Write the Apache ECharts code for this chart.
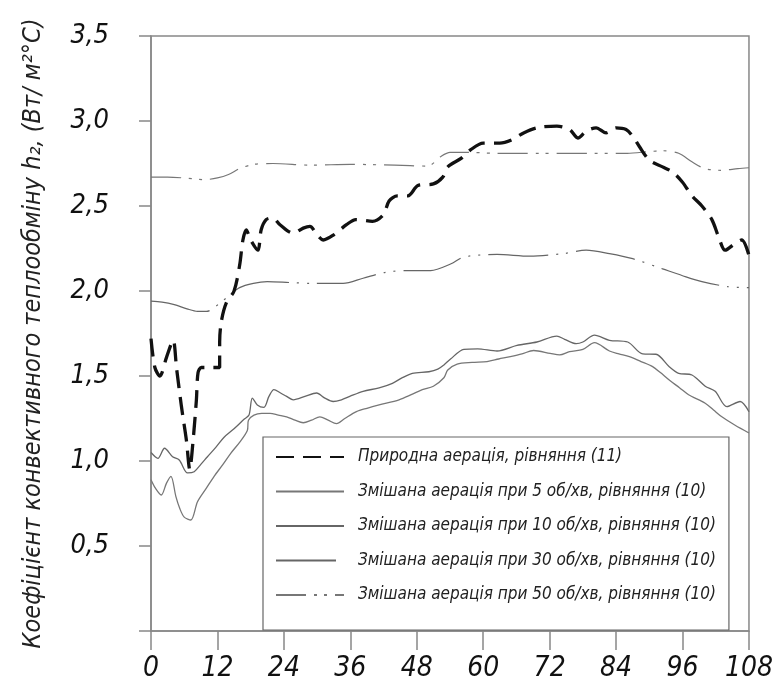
<!DOCTYPE html>
<html>
<head>
<meta charset="utf-8">
<script src="https://cdn.jsdelivr.net/npm/echarts@6/dist/echarts.min.js"></script>
<style>
html,body{margin:0;padding:0;background:#fff;}
#c{width:776px;height:684px;}
</style>
</head>
<body>
<div id="c"></div>
<script>
const FONT = "'Liberation Sans Narrow', 'DejaVu Sans Condensed', sans-serif";

const seriesNames = [
  'Природна аерація, рівняння (11)',
  'Змішана аерація при 5 об/хв, рівняння (10)',
  'Змішана аерація при 10 об/хв, рівняння (10)',
  'Змішана аерація при 30 об/хв, рівняння (10)',
  'Змішана аерація при 50 об/хв, рівняння (10)'
];

const xTicks = [0, 12, 24, 36, 48, 60, 72, 84, 96, 108];
const yTicks = [0.5, 1.0, 1.5, 2.0, 2.5, 3.0, 3.5];

const natural = [
  [0,1.72],[0.7,1.55],[1.6,1.5],[2.8,1.61],[4,1.71],[4.6,1.55],[5.5,1.32],[6.4,1.12],[7,0.95],
  [7.6,1.12],[8.2,1.36],[8.5,1.52],[9.1,1.55],[11,1.55],[12.4,1.55],[12.4,1.7],[12.7,1.82],
  [13.6,1.93],[15,2.0],[16,2.15],[16.6,2.3],[17.2,2.36],[18,2.3],[19.3,2.24],[19.9,2.36],
  [20.8,2.42],[22,2.43],[23.3,2.39],[25.7,2.34],[27.5,2.37],[28.7,2.38],[30,2.33],[31.1,2.3],
  [33,2.33],[35.3,2.39],[37,2.42],[40,2.41],[42,2.45],[43,2.53],[44.5,2.56],[46.4,2.56],
  [48.2,2.62],[51,2.63],[52.7,2.67],[53.6,2.73],[56,2.78],[57.7,2.83],[60,2.87],[63,2.87],
  [65.2,2.89],[67.3,2.93],[69.7,2.96],[73.3,2.97],[75.6,2.95],[77.1,2.9],[78.6,2.94],[80.4,2.96],
  [82.2,2.93],[84,2.96],[85.8,2.95],[87,2.91],[88.2,2.85],[90,2.77],[92.4,2.73],[94.2,2.7],
  [96,2.64],[97.7,2.56],[99.5,2.5],[101.3,2.42],[102.5,2.32],[103.7,2.24],[105.5,2.28],
  [106.7,2.3],[108,2.21]
];

const mix5 = [
  [0,0.89],[0.8,0.84],[1.85,0.8],[2.8,0.87],[3.6,0.91],[4.5,0.79],[5.2,0.72],[6,0.67],[7.2,0.653],
  [8.4,0.76],[10,0.84],[11.4,0.91],[13,0.98],[14.4,1.045],[16,1.11],[17.4,1.18],[17.6,1.24],
  [18.6,1.27],[20,1.28],[21.5,1.28],[23,1.27],[24.5,1.26],[26,1.24],[27.5,1.225],[29,1.24],
  [30.5,1.26],[32,1.24],[33.5,1.22],[35,1.25],[37.1,1.29],[39,1.31],[41.2,1.33],[44.8,1.36],
  [47,1.39],[49,1.42],[51,1.44],[52.9,1.49],[53.6,1.535],[55.3,1.57],[58,1.58],[60.7,1.585],
  [62.8,1.6],[64.9,1.614],[67,1.63],[69.1,1.65],[72.1,1.633],[73.8,1.624],[75.6,1.643],[78,1.657],
  [80.1,1.696],[82.8,1.647],[84.5,1.63],[86.4,1.614],[88.5,1.585],[90.6,1.555],[92,1.52],
  [93.6,1.476],[95.5,1.43],[97.1,1.39],[100.1,1.34],[101.6,1.3],[103.1,1.26],[105.5,1.21],[108,1.165]
];

const mix10 = [
  [0,1.05],[1.25,1.016],[2.45,1.075],[3.9,1.025],[5.1,1.006],[6.6,0.93],[7.8,0.937],[9,0.98],
  [10.2,1.025],[11.7,1.08],[13.2,1.14],[15,1.19],[16.8,1.245],[17.7,1.27],[18.3,1.37],[19.2,1.33],
  [20.4,1.316],[21.3,1.38],[22.2,1.42],[23.4,1.4],[24.5,1.38],[25.7,1.36],[27.8,1.38],[29.9,1.4],
  [31.4,1.37],[32.9,1.35],[34.4,1.36],[35.9,1.38],[38.3,1.41],[41.2,1.43],[43.6,1.457],[45.4,1.49],
  [47.2,1.516],[50.2,1.525],[51.8,1.54],[52.9,1.565],[54.1,1.6],[56.5,1.657],[59,1.66],[62.5,1.647],
  [66.1,1.68],[69.7,1.7],[73.3,1.735],[74.7,1.716],[76.8,1.69],[78,1.7],[80.1,1.74],[82.8,1.71],
  [86.1,1.7],[88.8,1.63],[91.2,1.628],[93.6,1.555],[95.3,1.516],[97.7,1.506],[100.1,1.44],
  [101.9,1.41],[104,1.32],[106.4,1.35],[108,1.29]
];

const mix30 = [
  [0,1.94],[2,1.935],[4.2,1.92],[6.5,1.895],[8.4,1.88],[10,1.88],[12.5,1.93],[14,1.97],[16,2.02],
  [18.5,2.045],[21,2.055],[25,2.05],[29,2.045],[34.7,2.045],[38.3,2.075],[42.4,2.11],[46,2.12],
  [50.5,2.12],[54.2,2.16],[56.5,2.2],[62.5,2.215],[68.4,2.205],[74.5,2.22],[78.6,2.24],[82.8,2.22],
  [87,2.19],[92.4,2.13],[96,2.09],[99.5,2.055],[104.3,2.025],[108,2.02]
];

const mix50 = [
  [0,2.67],[3,2.67],[6,2.665],[9.6,2.655],[12,2.665],[14,2.685],[16,2.72],[18.6,2.745],[22,2.75],
  [29,2.74],[36,2.745],[44,2.74],[50,2.735],[52.3,2.79],[54,2.815],[58,2.815],[62,2.81],[70,2.81],
  [80,2.81],[86,2.81],[90,2.82],[92.4,2.825],[95.3,2.81],[97.7,2.76],[100,2.72],[103,2.71],
  [106,2.72],[108,2.725]
];

const chart = echarts.init(document.getElementById('c'), null, {renderer: 'canvas'});

function line(name, data, color, width, type, z) {
  return {
    name: name, type: 'line', data: data, symbol: 'none', showSymbol: false, smooth: 0.3, z: z || 2,
    lineStyle: {color: color, width: width, type: type},
    itemStyle: {color: color},
    emphasis: {disabled: true}
  };
}

chart.setOption({
  animation: false,
  backgroundColor: '#fff',
  grid: {left: 151, right: 22, top: 36, bottom: 53, show: true, borderColor: '#888', borderWidth: 1.5, backgroundColor: 'transparent'},
  xAxis: {
    type: 'value', min: 0, max: 108, interval: 12,
    axisLine: {show: true, lineStyle: {color: '#888', width: 1.5}},
    axisTick: {show: true, length: 19, lineStyle: {color: '#888', width: 1.5}},
    splitLine: {show: false},
    axisLabel: {
      margin: 24, fontSize: 28, fontStyle: 'italic', fontFamily: FONT, color: '#111',
      formatter: v => xTicks.indexOf(v) >= 0 ? String(v) : ''
    }
  },
  yAxis: {
    type: 'value', min: 0, max: 3.5, interval: 0.5,
    axisLine: {show: true, lineStyle: {color: '#888', width: 1.5}},
    axisTick: {show: true, length: 12, lineStyle: {color: '#888', width: 1.5}},
    splitLine: {show: false},
    axisLabel: {
      margin: 42, fontSize: 27, fontStyle: 'italic', fontFamily: FONT, color: '#111',
      formatter: v => yTicks.some(t => Math.abs(t - v) < 1e-9) ? v.toFixed(1).replace('.', ',') : ''
    },
    name: 'Коефіцієнт конвективного теплообміну h₂, (Вт/ м²°С)',
    nameLocation: 'middle', nameGap: 105, nameRotate: 90,
    nameTextStyle: {fontSize: 25, fontStyle: 'italic', fontFamily: FONT, color: '#222'}
  },
  legend: {
    orient: 'vertical', left: 263, top: 437,
    padding: [10, 13, 25, 12], itemGap: 14.5, itemWidth: 68, itemHeight: 14,
    borderColor: '#666', borderWidth: 1.2, backgroundColor: '#fff',
    selectedMode: false,
    itemStyle: {opacity: 0},
    textStyle: {fontSize: 17, fontStyle: 'italic', fontFamily: FONT, color: '#222', lineHeight: 20, padding: [0, 0, 0, 9]},
    data: seriesNames
  },
  series: [
    line(seriesNames[0], natural, '#111', 3.3, [18, 9], 5),
    line(seriesNames[1], mix5, '#777', 1.3, 'solid'),
    line(seriesNames[2], mix10, '#666', 1.3, 'solid'),
    line(seriesNames[3], mix30, '#666', 1.2, [60, 8, 2, 8, 2, 8]),
    line(seriesNames[4], mix50, '#777', 1.2, [30, 8, 3, 7, 3, 8])
  ]
});
</script>
</body>
</html>
